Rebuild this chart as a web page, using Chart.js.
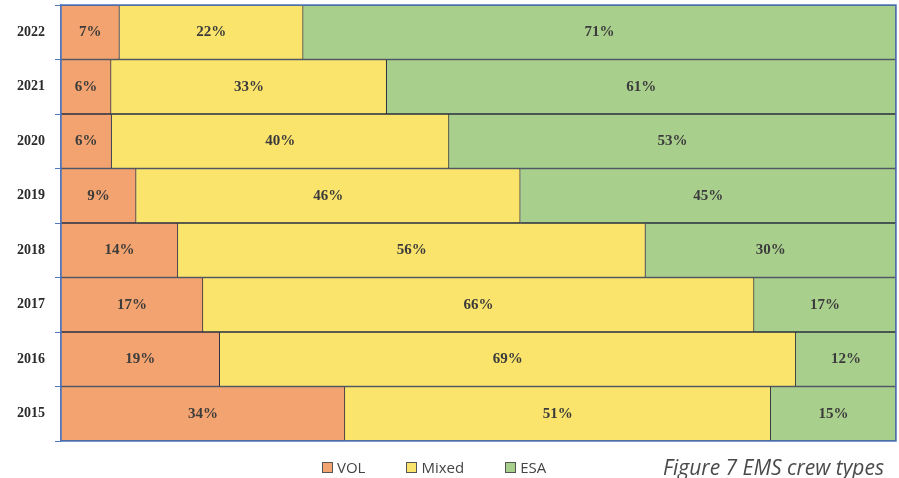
<!DOCTYPE html>
<html>
<head>
<meta charset="utf-8">
<script src="https://cdn.jsdelivr.net/npm/chart.js@4.4.1/dist/chart.umd.min.js"></script>
<style>
  html, body { margin: 0; padding: 0; background: #fff; }
  #wrap { position: relative; width: 899px; height: 478px; overflow: hidden; }
  #legend {
    position: absolute; left: 322px; top: 457px; display: flex; gap: 41px;
    font-family: "Open Sans", "Liberation Sans", sans-serif; font-size: 15px; color: #444;
    line-height: 20px;
  }
  #legend span.item { display: flex; align-items: center; }
  #legend i { display: inline-block; width: 9px; height: 9px; border: 1px solid #555; margin-right: 4px; }
  #caption {
    position: absolute; left: 663px; top: 457px; line-height: 21px;
    font-family: "Open Sans", "Liberation Sans", sans-serif;
    font-style: italic; font-size: 21px; color: #4a4a4a; white-space: nowrap;
  }
</style>
</head>
<body>
<div id="wrap">
  <canvas id="crewChart" width="899" height="478"></canvas>
  <div id="legend"></div>
  <div id="caption">Figure 7 EMS crew types</div>
</div>
<script>
// crew type share per year (percent)
const years = ['2022', '2021', '2020', '2019', '2018', '2017', '2016', '2015'];
const vol   = [7, 6, 6, 9, 14, 17, 19, 34];
const mixed = [22, 33, 40, 46, 56, 66, 69, 51];
const esa   = [71, 61, 53, 45, 30, 17, 12, 15];

// 100% stacked: each row scaled by its own total
const totals = years.map((y, i) => vol[i] + mixed[i] + esa[i]);
const share = arr => arr.map((v, i) => v * 100 / totals[i]);

const raw = [vol, mixed, esa];

// draws the percentage text in the middle of each segment
const segmentLabels = {
    id: 'segmentLabels',
    afterDatasetsDraw(chart) {
        const ctx = chart.ctx;
        ctx.save();
        ctx.font = 'bold 15px "Liberation Serif", serif';
        ctx.fillStyle = '#3b3b3b';
        ctx.textAlign = 'center';
        ctx.textBaseline = 'middle';
        chart.data.datasets.forEach((ds, di) => {
            chart.getDatasetMeta(di).data.forEach((bar, i) => {
                const p = bar.getCenterPoint();
                ctx.fillText(raw[di][i] + '%', p.x, p.y);
            });
        });
        ctx.restore();
    }
};

// blue frame round the plot area
const plotFrame = {
    id: 'plotFrame',
    afterDatasetsDraw(chart) {
        const a = chart.chartArea;
        const ctx = chart.ctx;
        ctx.save();
        ctx.strokeStyle = '#4f76bb';
        ctx.lineWidth = 1.5;
        ctx.strokeRect(a.left, a.top, a.right - a.left, a.bottom - a.top);
        ctx.restore();
    }
};

const border = '#2a3040';

const chart = new Chart(document.getElementById('crewChart').getContext('2d'), {
    type: 'bar',
    data: {
        labels: years,
        datasets: [
            { label: 'VOL',   data: share(vol),   backgroundColor: '#F3A36F', borderColor: border, borderWidth: 1 },
            { label: 'Mixed', data: share(mixed), backgroundColor: '#FBE46B', borderColor: border, borderWidth: 1 },
            { label: 'ESA',   data: share(esa),   backgroundColor: '#A9CF8D', borderColor: border, borderWidth: 1 }
        ]
    },
    options: {
        indexAxis: 'y',
        responsive: false,
        animation: false,
        barPercentage: 1,
        categoryPercentage: 1,
        layout: { padding: { top: 5, right: 3, left: 0, bottom: 37 } },
        scales: {
            x: {
                stacked: true,
                min: 0,
                max: 100,
                display: false
            },
            y: {
                stacked: true,
                grid: { drawOnChartArea: false, color: '#4f76bb', tickLength: 6 },
                border: { color: '#4f76bb', width: 1.5 },
                ticks: {
                    color: '#2b2b2b',
                    padding: 10,
                    font: { family: '"Liberation Serif", serif', size: 14, weight: 'bold' }
                },
                afterFit(scale) {
                    scale.width = 61;
                    scale.paddingTop = 0;
                    scale.paddingBottom = 0;
                }
            }
        },
        plugins: {
            tooltip: { enabled: false },
            legend: { display: false }
        }
    },
    plugins: [segmentLabels, plotFrame]
});

// legend below the bars, built from the datasets
const legendEl = document.getElementById('legend');
chart.data.datasets.forEach(ds => {
    const item = document.createElement('span');
    item.className = 'item';
    const box = document.createElement('i');
    box.style.background = ds.backgroundColor;
    item.appendChild(box);
    item.appendChild(document.createTextNode(ds.label));
    legendEl.appendChild(item);
});
</script>
</body>
</html>
